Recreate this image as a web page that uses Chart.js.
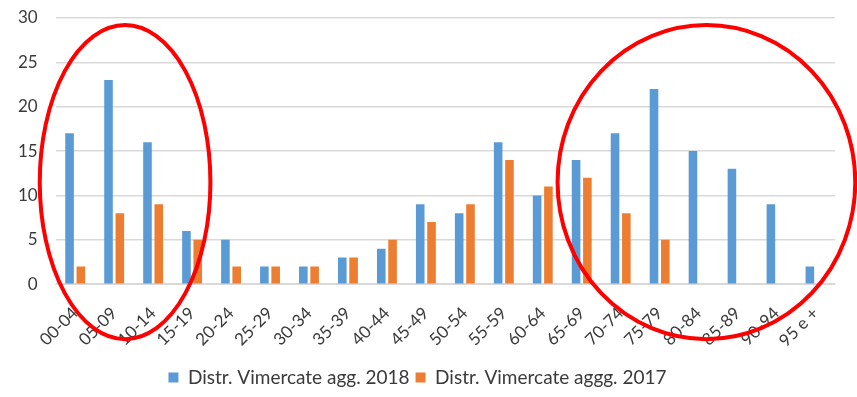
<!DOCTYPE html>
<html lang="it">
<head>
    <meta charset="UTF-8">
    <title>Distr. Vimercate</title>
    <style>
        html, body { margin: 0; padding: 0; background: #fff; }
        #chartContainer { width: 857px; height: 397px; }
    </style>
    <script src="https://cdn.jsdelivr.net/npm/chart.js"></script>
</head>
<body>
    <div id="chartContainer">
        <canvas id="ageChart" width="857" height="397"></canvas>
    </div>

    <script>
        const ageGroups = ['00-04', '05-09', '10-14', '15-19', '20-24', '25-29', '30-34', '35-39', '40-44', '45-49',
                           '50-54', '55-59', '60-64', '65-69', '70-74', '75-79', '80-84', '85-89', '90-94', '95 e +'];
        const values2018 = [17, 23, 16, 6, 5, 2, 2, 3, 4, 9, 8, 16, 10, 14, 17, 22, 15, 13, 9, 2];
        const values2017 = [2, 8, 9, 5, 2, 2, 2, 3, 5, 7, 9, 14, 11, 12, 8, 5, 0, 0, 0, 0];
        const yTicks = [0, 5, 10, 15, 20, 25, 30];

        // red circles drawn over the chart: centre in category index / value units
        const highlights = [
            { cx: 1.28, cy: 11.5, rx: 2.19, ry: 17.7 },
            { cx: 16.2, cy: 11.5, rx: 3.82, ry: 17.7 }
        ];

        const ellipsePlugin = {
            id: 'ellipses',
            afterDraw(chart) {
                const ctx = chart.ctx;
                const x = chart.scales.x;
                const y = chart.scales.y;
                const step = x.getPixelForValue(1) - x.getPixelForValue(0);
                const unit = y.getPixelForValue(0) - y.getPixelForValue(1);
                ctx.save();
                ctx.strokeStyle = '#ff0000';
                ctx.lineWidth = 4;
                highlights.forEach(h => {
                    const cx = x.getPixelForValue(0) + h.cx * step;
                    const cy = y.getPixelForValue(h.cy);
                    ctx.beginPath();
                    ctx.ellipse(cx, cy, h.rx * step, h.ry * unit, 0, 0, Math.PI * 2);
                    ctx.stroke();
                });
                ctx.restore();
            }
        };

        Chart.defaults.font.family = 'Lato, "Open Sans", sans-serif';
        Chart.defaults.color = '#3a3a3a';

        new Chart(document.getElementById('ageChart'), {
            type: 'bar',
            data: {
                labels: ageGroups,
                datasets: [
                    {
                        label: 'Distr. Vimercate agg. 2018',
                        data: values2018,
                        backgroundColor: '#5b9bd5',
                        categoryPercentage: 0.58,
                        barPercentage: 0.76
                    },
                    {
                        label: 'Distr. Vimercate aggg. 2017',
                        data: values2017,
                        backgroundColor: '#ed7d31',
                        categoryPercentage: 0.58,
                        barPercentage: 0.76
                    }
                ]
            },
            options: {
                responsive: false,
                animation: false,
                maintainAspectRatio: false,
                layout: { padding: { top: 0, right: 22, left: 0, bottom: 0 } },
                plugins: {
                    tooltip: { enabled: false },
                    legend: {
                        position: 'bottom',
                        labels: {
                            boxWidth: 10,
                            boxHeight: 10,
                            padding: 6,
                            font: { size: 19 }
                        }
                    }
                },
                scales: {
                    x: {
                        grid: { display: false },
                        border: { color: '#d9d9d9' },
                        ticks: {
                            autoSkip: false,
                            minRotation: 45,
                            maxRotation: 45,
                            font: { size: 17 },
                            padding: 11
                        }
                    },
                    y: {
                        min: 0,
                        max: 30,
                        afterBuildTicks(axis) {
                            axis.ticks = yTicks.map(v => ({ value: v }));
                        },
                        // tick padding should only push labels sideways, not shrink the plot top
                        afterFit(axis) {
                            axis.paddingTop = 18;
                        },
                        grid: { color: '#d9d9d9', lineWidth: 1.5, drawTicks: false },
                        border: { display: false },
                        ticks: { font: { size: 17 }, padding: 18 }
                    }
                }
            },
            plugins: [ellipsePlugin]
        });
    </script>
</body>
</html>
